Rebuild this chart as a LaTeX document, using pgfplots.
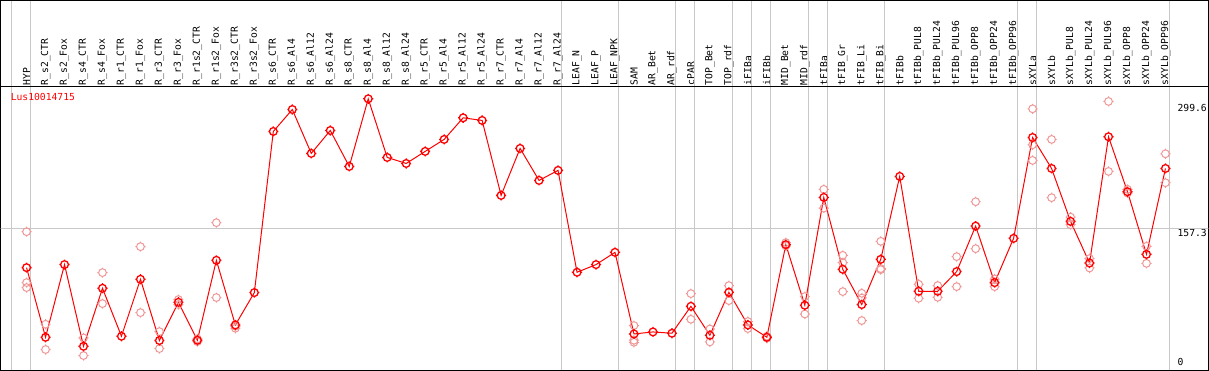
\documentclass[border=0pt]{standalone}
\usepackage{pgfplots}
\pgfplotsset{compat=1.18}
\usepackage{fontspec}
\newfontfamily\mono{DejaVu Sans Mono}
\newcommand\lf{\mono\fontsize{9.7bp}{10bp}\selectfont}
\definecolor{gridgrey}{RGB}{200,200,200}
\definecolor{reppink}{RGB}{240,150,150}
\pgfdeclareplotmark{gsight}{%
  \pgfpathcircle{\pgfpointorigin}{\pgfplotmarksize}%
  \pgfpathmoveto{\pgfpoint{0pt}{\pgfplotmarksize}}\pgfpathlineto{\pgfpoint{0pt}{1.3\pgfplotmarksize}}%
  \pgfpathmoveto{\pgfpoint{0pt}{-\pgfplotmarksize}}\pgfpathlineto{\pgfpoint{0pt}{-1.3\pgfplotmarksize}}%
  \pgfpathmoveto{\pgfpoint{\pgfplotmarksize}{0pt}}\pgfpathlineto{\pgfpoint{1.3\pgfplotmarksize}{0pt}}%
  \pgfpathmoveto{\pgfpoint{-\pgfplotmarksize}{0pt}}\pgfpathlineto{\pgfpoint{-1.3\pgfplotmarksize}{0pt}}%
  \pgfusepathqstroke}
\begin{document}
\begin{tikzpicture}
\begin{axis}[
  width=1209bp, height=370bp, scale only axis,
  xmin=-1.368, xmax=62.263,
  ymin=-4.57, ymax=418.0,
  axis line style={black, line width=1.2bp},
  tick style={draw=none},
  major tick length=0pt,
  xtick={0,...,60},
  xticklabels={HYP,R\_s2\_CTR,R\_s2\_Fox,R\_s4\_CTR,R\_s4\_Fox,R\_r1\_CTR,R\_r1\_Fox,R\_r3\_CTR,R\_r3\_Fox,R\_r1s2\_CTR,R\_r1s2\_Fox,R\_r3s2\_CTR,R\_r3s2\_Fox,R\_s6\_CTR,R\_s6\_Al4,R\_s6\_Al12,R\_s6\_Al24,R\_s8\_CTR,R\_s8\_Al4,R\_s8\_Al12,R\_s8\_Al24,R\_r5\_CTR,R\_r5\_Al4,R\_r5\_Al12,R\_r5\_Al24,R\_r7\_CTR,R\_r7\_Al4,R\_r7\_Al12,R\_r7\_Al24,LEAF\_N,LEAF\_P,LEAF\_NPK,SAM,AR\_Bet,AR\_rdf,cPAR,TOP\_Bet,TOP\_rdf,iFIBa,iFIBb,MID\_Bet,MID\_rdf,tFIBa,tFIB\_Gr,tFIB\_Li,tFIB\_Bi,tFIBb,tFIBb\_PUL8,tFIBb\_PUL24,tFIBb\_PUL96,tFIBb\_OPP8,tFIBb\_OPP24,tFIBb\_OPP96,sXYLa,sXYLb,sXYLb\_PUL8,sXYLb\_PUL24,sXYLb\_PUL96,sXYLb\_OPP8,sXYLb\_OPP24,sXYLb\_OPP96},
  xticklabel style={font=\lf, rotate=90, anchor=west, inner sep=0pt},
  xticklabel shift=-285bp,
  extra x ticks={-0.8,0.2,28.2,31.2,34.2,35.2,37.2,38.2,39.2,41.2,42.2,45.2,52.2,53.2,60.2},
  extra x tick labels={},
  extra x tick style={grid=major, major grid style={gridgrey, line width=1bp}},
  ytick={157.3,299.6},
  yticklabels={157.3,299.6},
  yticklabel pos=right,
  yticklabel style={font=\lf, anchor=west, inner sep=0pt, xshift=-31bp, yshift=-4bp, fill=white},
  /pgf/number format/assume math mode=true,
]
\draw[gridgrey, line width=1bp] (axis cs:-5,157.3) -- (axis cs:70,157.3);
\draw[black, line width=1bp] (axis cs:-5,320) -- (axis cs:70,320);
\node[anchor=west, inner sep=0pt, text=red, font=\lf] at (axis description cs:0.0083,0.738) {Lus10014715};
\node[anchor=west, inner sep=0pt, font=\lf] at (axis description cs:0.9744,0.0216) {0};
\addplot[only marks, mark=gsight, mark size=3.9pt, mark options={draw=reppink, line width=1bp}] coordinates {
(0,153.8)(0,95.6)(0,89.9)(1,48.0)(1,19.1)(3,32.3)(3,12.2)(4,107.0)(4,71.6)(6,136.7)(6,61.3)(7,39.6)(7,20.2)(8,76.2)(8,70.5)(9,31.2)(9,28.2)(10,164.1)(10,78.5)(11,45.7)(11,43.4)(32,46.5)(32,29.7)(32,27.4)(35,83.0)(35,53.7)(36,42.6)(36,27.8)(37,92.2)(37,75.0)(38,51.1)(38,43.1)(39,34.3)(39,32.0)(40,141.3)(40,137.4)(41,79.6)(41,59.7)(42,202.2)(42,180.8)(43,126.8)(43,118.4)(43,85.3)(44,83.4)(44,78.0)(44,52.2)(45,142.8)(45,111.6)(45,110.4)(47,93.7)(47,77.7)(48,92.2)(48,78.8)(49,125.3)(49,91.0)(50,188.1)(50,134.4)(51,99.7)(51,91.0)(53,294.3)(53,253.2)(53,235.3)(54,259.3)(54,192.7)(55,170.5)(55,161.8)(56,123.0)(56,112.3)(57,302.7)(57,222.7)(58,202.2)(58,197.9)(59,137.1)(59,117.6)(60,242.9)(60,209.8)
};
\addplot[red, line width=1bp, mark=gsight, mark size=3.9pt, mark options={draw=red, line width=1.3bp}] coordinates {
(0,112.7)(1,33.1)(2,116.2)(3,22.8)(4,89.1)(5,34.3)(6,99.4)(7,29.4)(8,73.1)(9,29.7)(10,121.1)(11,47.2)(12,84.2)(13,268.4)(14,293.5)(15,243.3)(16,269.5)(17,228.4)(18,305.7)(19,238.7)(20,231.8)(21,245.6)(22,259.3)(23,284.0)(24,281.0)(25,195.3)(26,249.0)(27,212.4)(28,223.9)(29,107.4)(30,116.2)(31,130.2)(32,36.9)(33,39.2)(34,37.7)(35,68.5)(36,35.4)(37,84.5)(38,47.2)(39,33.1)(40,139.0)(41,69.7)(42,193.0)(43,110.8)(44,70.5)(45,122.2)(46,217.0)(47,85.7)(48,85.7)(49,108.2)(50,160.2)(51,95.6)(52,146.2)(53,261.5)(54,226.1)(55,165.6)(56,118.0)(57,262.3)(58,199.5)(59,127.9)(60,226.1)
};
\end{axis}
\end{tikzpicture}
\end{document}
